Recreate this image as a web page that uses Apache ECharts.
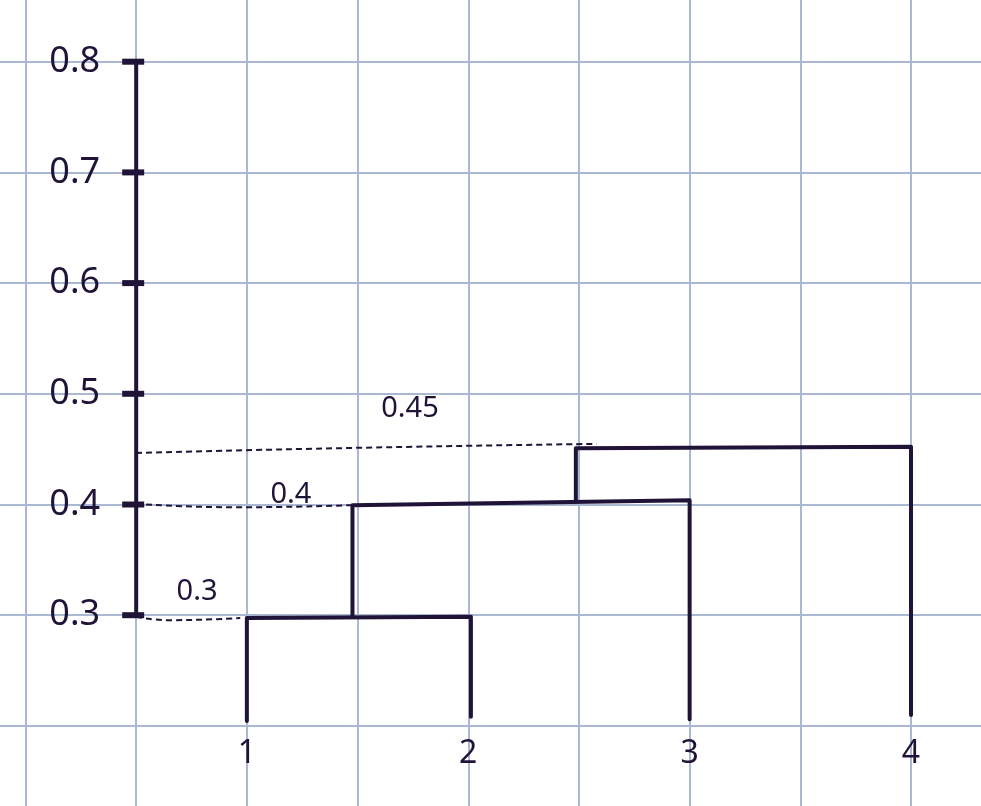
<!DOCTYPE html>
<html>
<head>
<meta charset="utf-8">
<script src="https://cdn.jsdelivr.net/npm/echarts@6/dist/echarts.min.js"></script>
<style>html,body{margin:0;padding:0;background:#fff}#c{width:981px;height:806px}</style>
</head>
<body>
<div id="c"></div>
<script>
// ---- data ----
const leafX = [1, 2, 3, 4];
const leafLabels = ['1', '2', '3', '4'];
const leafBottom = [0.2045, 0.2083, 0.206, 0.2098];
const yTickValues = [0.3, 0.4, 0.5, 0.6, 0.7, 0.8];
const yTickLabels = ['0.3', '0.4', '0.5', '0.6', '0.7', '0.8'];
// merges: left x, right x, left-end height, right-end height, child bottoms
const mergeLeftX = [1, 1.477, 2.486];
const mergeRightX = [2.012, 3, 4];
const mergeLeftY = [0.2975, 0.3994, 0.4508];
const mergeRightY = [0.2985, 0.4039, 0.4522];
const mergeLeftBottom = [0.2045, 0.2985, 0.4025];
const mergeRightBottom = [0.2083, 0.206, 0.2098];
// dashed guides from the axis to the merge heights
const guideStartY = [0.2985, 0.4005, 0.4466];
const guideMidX = [0.65, 0.95, 1.5];
const guideMidY = [0.2955, 0.3975, 0.4512];
const guideEndX = [0.97, 1.47, 2.58];
const guideEndY = [0.2975, 0.3994, 0.4548];
// annotation texts and where they sit
const noteText = ['0.3', '0.4', '0.45'];
const noteX = [0.775, 1.199, 1.737];
const noteY = [0.321, 0.4085, 0.4862];

const ink = '#1f1437';
const paper = '#aab8d4';
const font = 'Noto Sans';

const series = [];
for (let i = 0; i < mergeLeftX.length; i++) {
  series.push({
    type: 'line', xAxisIndex: 0, yAxisIndex: 0, symbol: 'none', clip: false,
    lineStyle: { color: ink, width: 4, join: 'round', cap: 'round' },
    data: [
      [mergeLeftX[i], mergeLeftBottom[i]],
      [mergeLeftX[i], mergeLeftY[i]],
      [mergeRightX[i], mergeRightY[i]],
      [mergeRightX[i], mergeRightBottom[i]]
    ]
  });
}
for (let i = 0; i < guideEndX.length; i++) {
  series.push({
    type: 'line', xAxisIndex: 0, yAxisIndex: 0, symbol: 'none', smooth: true, clip: false,
    lineStyle: { color: ink, width: 2, type: [6, 4] },
    data: [[0.5, guideStartY[i]], [guideMidX[i], guideMidY[i]], [guideEndX[i], guideEndY[i]]]
  });
}
// hand-drawn y axis line
series.push({
  type: 'line', xAxisIndex: 0, yAxisIndex: 0, symbol: 'none', clip: false,
  lineStyle: { color: ink, width: 4, cap: 'round' },
  data: [[0.5, yTickValues[0]], [0.5, yTickValues[yTickValues.length - 1]]]
});
// tick dashes
series.push({
  type: 'scatter', xAxisIndex: 0, yAxisIndex: 0, symbol: 'rect', symbolSize: [22, 6],
  symbolOffset: [-3, 0], itemStyle: { color: ink, opacity: 1 }, silent: true,
  data: yTickValues.map(v => [0.5, v])
});
// annotations
series.push({
  type: 'scatter', xAxisIndex: 0, yAxisIndex: 0, symbolSize: 0, silent: true,
  itemStyle: { opacity: 1 },
  label: { show: true, position: 'inside', formatter: p => p.name, color: ink, fontSize: 29, fontFamily: font },
  data: noteText.map((t, i) => ({ name: t, value: [noteX[i], noteY[i]] }))
});

const option = {
  animation: false,
  backgroundColor: '#ffffff',
  grid: [
    { left: -85.2, right: -40.7, top: -159.7, bottom: -30.6, outerBoundsMode: 'none', containLabel: false },
    { left: 136.2, right: 70, top: 61.7, bottom: 80.1, outerBoundsMode: 'none', containLabel: false }
  ],
  xAxis: [
    { type: 'value', gridIndex: 0, min: -0.5, max: 4.5, interval: 0.5,
      axisLine: { show: false }, axisTick: { show: false }, axisLabel: { show: false },
      splitLine: { show: true, lineStyle: { color: paper, width: 2 } } },
    { type: 'value', gridIndex: 1, min: 0.5, max: 4, interval: 0.5,
      axisLine: { show: false }, axisTick: { show: false }, splitLine: { show: false },
      axisLabel: { show: true, margin: 12, color: ink, fontSize: 32, fontFamily: font,
        formatter: v => { const k = leafX.indexOf(Math.round(v * 100) / 100); return k >= 0 ? leafLabels[k] : ''; } } }
  ],
  yAxis: [
    { type: 'value', gridIndex: 0, min: 0.1, max: 1.0, interval: 0.1,
      axisLine: { show: false }, axisTick: { show: false }, axisLabel: { show: false },
      splitLine: { show: true, lineStyle: { color: paper, width: 2 } } },
    { type: 'value', gridIndex: 1, min: 0.2, max: 0.8, interval: 0.1,
      axisLine: { show: false }, axisTick: { show: false }, splitLine: { show: false },
      axisLabel: { show: true, margin: 36, color: ink, fontSize: 36, fontFamily: font,
        formatter: v => { const k = yTickValues.findIndex(t => Math.abs(t - v) < 1e-6); return k >= 0 ? yTickLabels[k] : ''; } } }
  ],
  series: series
};
const chart = echarts.init(document.getElementById('c'), null, { renderer: 'canvas' });
chart.setOption(option);
</script>
</body>
</html>
